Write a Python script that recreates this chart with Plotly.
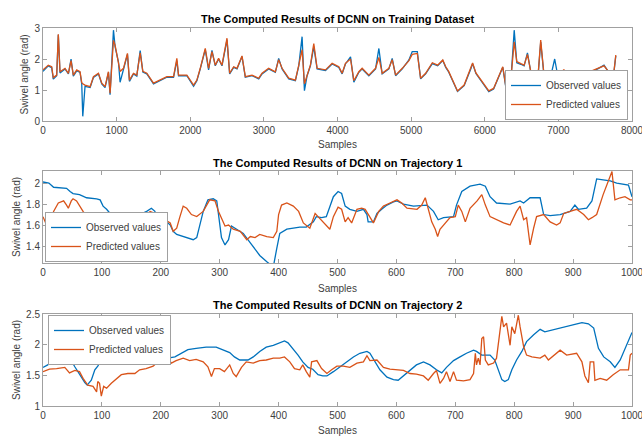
import plotly.graph_objects as go

# ---------------- Training dataset (top) ----------------
train_x = [0, 72, 118, 140, 186, 208, 231, 299, 345, 381, 412, 458, 503, 526, 540, 571, 640, 685, 753, 798,
           843, 889, 911, 957, 979, 1025, 1047, 1093, 1147, 1174, 1229, 1274, 1320, 1356, 1410, 1501, 1592,
           1682, 1773, 1818, 1841, 1954, 2045, 2090, 2136, 2204, 2249, 2295, 2340, 2385, 2431, 2499, 2535,
           2590, 2635, 2703, 2748, 2839, 2930, 2975, 3065, 3156, 3201, 3247, 3338, 3428, 3474, 3519, 3551,
           3587, 3632, 3678, 3723, 3837, 3927, 4018, 4063, 4108, 4177, 4222, 4290, 4335, 4426, 4517, 4562,
           4607, 4698, 4743, 4789, 4880, 4970, 5015, 5084, 5129, 5197, 5288, 5360, 5430, 5470, 5510, 5630,
           5720, 5810, 5835, 5880, 5990, 6055, 6120, 6220, 6245, 6290, 6360, 6400, 6435, 6490, 6535, 6580,
           6625, 6670, 6720, 6760, 6800, 6900, 6950, 6990, 7075, 7170, 7265, 7350, 7440, 7535, 7620, 7710,
           7755, 7780]
train_obs = [1.60, 1.78, 1.72, 1.35, 1.46, 2.78, 1.55, 1.68, 1.52, 2.00, 1.45, 1.62, 1.57, 1.20, 0.15, 1.12,
             1.08, 1.40, 1.52, 1.20, 1.08, 1.57, 0.85, 2.93, 2.40, 1.90, 1.25, 1.68, 2.15, 1.28, 1.52, 1.45,
             2.27, 1.58, 1.52, 1.20, 1.30, 1.41, 1.41, 1.95, 1.46, 1.46, 1.12, 1.30, 1.68, 2.30, 1.65, 2.28,
             1.78, 2.00, 1.78, 2.62, 1.52, 1.73, 1.68, 2.08, 1.41, 1.46, 1.36, 1.52, 1.68, 1.57, 2.02, 1.68,
             1.36, 1.30, 1.78, 2.72, 0.98, 1.46, 1.78, 2.40, 1.68, 1.63, 1.84, 1.73, 1.52, 1.84, 2.07, 1.25,
             1.57, 1.68, 1.46, 1.68, 2.34, 1.52, 1.68, 2.02, 1.46, 1.68, 1.97, 2.24, 2.24, 1.36, 1.52, 1.85,
             1.78, 1.95, 1.73, 1.58, 0.95, 1.14, 1.68, 1.85, 1.53, 1.14, 0.95, 1.03, 1.58, 1.73, 1.03, 1.48,
             2.93, 1.88, 1.83, 1.78, 2.20, 1.58, 1.28, 1.33, 2.55, 1.58, 1.48, 2.00, 1.48, 1.63, 1.43, 1.28,
             1.38, 1.58, 1.68, 1.80, 1.48, 1.58, 2.10]
train_pred = [1.65, 1.80, 1.75, 1.40, 1.48, 2.80, 1.59, 1.70, 1.54, 1.95, 1.48, 1.65, 1.59, 1.24, 1.20, 1.16,
              1.11, 1.43, 1.54, 1.22, 1.11, 1.59, 0.90, 2.60, 2.45, 1.91, 1.60, 1.70, 2.18, 1.32, 1.54, 1.48,
              2.20, 1.60, 1.54, 1.22, 1.32, 1.43, 1.43, 2.02, 1.48, 1.48, 1.16, 1.32, 1.70, 2.34, 1.70, 2.24,
              1.80, 2.02, 1.80, 2.67, 1.54, 1.75, 1.70, 2.10, 1.43, 1.48, 1.38, 1.54, 1.70, 1.59, 1.98, 1.70,
              1.38, 1.32, 1.80, 2.30, 1.20, 1.48, 1.80, 2.50, 1.70, 1.65, 1.86, 1.75, 1.54, 1.86, 2.00, 1.30,
              1.59, 1.70, 1.48, 1.70, 2.05, 1.54, 1.70, 1.98, 1.48, 1.70, 1.95, 2.15, 2.18, 1.38, 1.54, 1.88,
              1.80, 1.97, 1.75, 1.60, 0.97, 1.16, 1.70, 1.87, 1.55, 1.16, 0.97, 1.05, 1.60, 1.75, 1.05, 1.50,
              2.55, 1.92, 1.85, 1.80, 2.15, 1.60, 1.30, 1.35, 2.61, 1.60, 1.50, 1.60, 1.50, 1.65, 1.45, 1.30,
              1.40, 1.60, 1.70, 1.78, 1.50, 1.60, 2.13]

# ---------------- Trajectory 1 (middle) ----------------
t1_obs_x = [0, 10, 18, 31, 40, 46, 51, 62, 74, 91, 97, 102, 108, 114, 122, 131, 136, 148, 159, 165, 176, 184,
            190, 193, 210, 216, 221, 227, 238, 255, 261, 266, 272, 280, 289, 295, 298, 303, 309, 315, 320, 329,
            340, 352, 360, 368, 380, 391, 397, 402, 414, 425, 436, 447, 459, 464, 473, 481, 490, 493, 501, 507,
            513, 521, 533, 544, 550, 552, 561, 567, 575, 584, 595, 601, 612, 629, 652, 663, 671, 680, 697, 702,
            711, 725, 742, 751, 759, 770, 793, 810, 816, 827, 844, 850, 861, 878, 895, 903, 909, 923, 932, 940,
            951, 963, 974, 986, 994, 1000]
t1_obs = [2.01, 2.00, 1.96, 1.95, 1.95, 1.92, 1.90, 1.89, 1.86, 1.85, 1.84, 1.78, 1.75, 1.71, 1.67, 1.59, 1.56,
          1.56, 1.57, 1.70, 1.73, 1.76, 1.73, 1.65, 1.63, 1.60, 1.54, 1.51, 1.49, 1.46, 1.48, 1.60, 1.73, 1.84,
          1.85, 1.83, 1.70, 1.48, 1.41, 1.46, 1.59, 1.56, 1.52, 1.43, 1.37, 1.31, 1.25, 1.20, 1.38, 1.52, 1.56,
          1.57, 1.58, 1.58, 1.63, 1.68, 1.67, 1.68, 1.81, 1.87, 1.92, 1.90, 1.78, 1.75, 1.73, 1.75, 1.70, 1.63,
          1.63, 1.71, 1.75, 1.79, 1.82, 1.83, 1.80, 1.78, 1.79, 1.73, 1.65, 1.67, 1.68, 1.79, 1.92, 1.97, 1.99,
          1.97, 1.87, 1.81, 1.80, 1.83, 1.81, 1.86, 1.86, 1.70, 1.69, 1.70, 1.73, 1.79, 1.75, 1.76, 1.83, 2.04,
          2.03, 2.02, 2.00, 1.99, 1.98, 1.87]
t1_pred_x = [0, 6, 12, 18, 26, 35, 40, 43, 48, 51, 57, 62, 68, 74, 80, 91, 100, 108, 117, 125, 134, 142, 159,
             170, 182, 190, 193, 207, 216, 221, 227, 232, 238, 244, 252, 261, 266, 272, 283, 292, 298, 303, 309,
             315, 323, 335, 346, 352, 360, 368, 380, 391, 397, 400, 405, 414, 425, 434, 442, 453, 462, 467, 476,
             487, 493, 501, 507, 513, 518, 524, 533, 541, 547, 555, 561, 570, 578, 589, 601, 609, 618, 635, 643,
             649, 654, 660, 666, 670, 674, 683, 691, 700, 705, 711, 717, 725, 737, 745, 751, 759, 770, 782, 793,
             804, 810, 816, 821, 827, 833, 838, 850, 861, 872, 878, 884, 895, 906, 918, 926, 932, 940, 951, 960,
             966, 971, 980, 988, 997, 1000]
t1_pred = [1.68, 1.60, 1.62, 1.73, 1.81, 1.83, 1.79, 1.76, 1.83, 1.85, 1.83, 1.78, 1.73, 1.68, 1.67, 1.67, 1.67,
           1.63, 1.62, 1.65, 1.60, 1.57, 1.57, 1.67, 1.73, 1.71, 1.63, 1.65, 1.62, 1.54, 1.57, 1.67, 1.78, 1.76,
           1.70, 1.68, 1.70, 1.73, 1.84, 1.83, 1.73, 1.67, 1.59, 1.60, 1.56, 1.54, 1.46, 1.49, 1.48, 1.51, 1.49,
           1.48, 1.54, 1.70, 1.79, 1.81, 1.78, 1.73, 1.62, 1.57, 1.71, 1.68, 1.63, 1.56, 1.68, 1.77, 1.75, 1.63,
           1.67, 1.62, 1.75, 1.76, 1.75, 1.68, 1.62, 1.73, 1.78, 1.81, 1.84, 1.81, 1.76, 1.75, 1.79, 1.86, 1.76,
           1.63, 1.56, 1.49, 1.56, 1.62, 1.67, 1.68, 1.79, 1.73, 1.63, 1.76, 1.83, 1.89, 1.79, 1.68, 1.65, 1.62,
           1.60, 1.73, 1.78, 1.65, 1.67, 1.41, 1.57, 1.68, 1.70, 1.63, 1.60, 1.62, 1.71, 1.73, 1.75, 1.70, 1.65,
           1.67, 1.70, 1.89, 2.02, 2.11, 1.84, 1.86, 1.87, 1.84, 1.84]

# ---------------- Trajectory 2 (bottom) ----------------
t2_obs_x = [0, 8, 17, 25, 31, 37, 42, 48, 54, 59, 65, 71, 75, 82, 88, 93, 102, 110, 116, 122, 130, 139, 150,
            158, 167, 178, 195, 212, 224, 235, 246, 260, 277, 294, 306, 317, 325, 334, 348, 357, 368, 379, 391,
            402, 410, 416, 424, 433, 441, 450, 458, 467, 475, 482, 493, 504, 516, 527, 538, 550, 555, 564, 572,
            584, 595, 603, 612, 623, 634, 646, 657, 668, 677, 685, 697, 708, 719, 731, 736, 745, 759, 767, 773,
            779, 784, 790, 796, 804, 813, 821, 833, 844, 852, 864, 883, 900, 915, 926, 935, 943, 952, 963, 971,
            980, 988, 997, 1000]
t2_obs = [1.63, 1.67, 1.75, 1.80, 1.81, 1.78, 1.72, 1.74, 1.64, 1.56, 1.48, 1.38, 1.34, 1.42, 1.59, 1.65, 1.80,
          1.89, 1.90, 1.86, 1.83, 1.89, 1.89, 1.83, 1.78, 1.78, 1.78, 1.78, 1.80, 1.86, 1.92, 1.94, 1.96, 1.96,
          1.91, 1.87, 1.80, 1.75, 1.75, 1.80, 1.89, 1.96, 1.99, 2.03, 2.06, 2.03, 1.94, 1.83, 1.72, 1.63, 1.60,
          1.51, 1.49, 1.49, 1.56, 1.64, 1.72, 1.80, 1.86, 1.89, 1.86, 1.72, 1.59, 1.47, 1.43, 1.42, 1.49, 1.59,
          1.67, 1.72, 1.67, 1.59, 1.54, 1.63, 1.74, 1.80, 1.86, 1.91, 1.89, 1.83, 1.83, 1.75, 1.59, 1.43, 1.40,
          1.43, 1.59, 1.75, 1.89, 2.05, 2.16, 2.25, 2.21, 2.24, 2.28, 2.32, 2.36, 2.34, 2.27, 1.94, 1.80, 1.72,
          1.63, 1.75, 1.94, 2.16, 2.20]
t2_pred_x = [0, 11, 23, 37, 45, 54, 62, 68, 76, 85, 91, 93, 96, 99, 103, 108, 116, 125, 133, 144, 156, 164, 175,
             187, 195, 204, 212, 218, 226, 238, 249, 260, 272, 280, 286, 291, 300, 308, 317, 323, 328, 337, 345,
             357, 368, 379, 391, 402, 410, 419, 427, 436, 441, 447, 453, 456, 465, 473, 482, 490, 499, 510, 521,
             533, 544, 550, 555, 567, 578, 589, 601, 612, 623, 634, 646, 654, 663, 668, 674, 680, 685, 691, 697,
             702, 714, 725, 731, 734, 736, 739, 742, 745, 748, 751, 756, 765, 770, 776, 779, 782, 787, 793, 796,
             801, 807, 810, 816, 821, 830, 844, 852, 858, 869, 878, 889, 906, 915, 920, 926, 929, 935, 937, 946,
             957, 968, 980, 994, 997, 1000]
t2_pred = [1.56, 1.60, 1.61, 1.63, 1.54, 1.58, 1.56, 1.45, 1.34, 1.32, 1.23, 1.40, 1.37, 1.16, 1.32, 1.29, 1.37,
           1.45, 1.51, 1.53, 1.53, 1.59, 1.61, 1.65, 1.72, 1.78, 1.78, 1.70, 1.74, 1.78, 1.74, 1.76, 1.72, 1.64,
           1.48, 1.61, 1.61, 1.56, 1.67, 1.53, 1.48, 1.63, 1.72, 1.70, 1.74, 1.75, 1.78, 1.78, 1.80, 1.72, 1.61,
           1.59, 1.67, 1.56, 1.47, 1.72, 1.74, 1.61, 1.53, 1.59, 1.65, 1.65, 1.63, 1.70, 1.72, 1.82, 1.74, 1.75,
           1.63, 1.60, 1.59, 1.58, 1.53, 1.52, 1.49, 1.42, 1.53, 1.58, 1.37, 1.45, 1.56, 1.40, 1.56, 1.42, 1.41,
           1.43, 1.53, 1.86, 1.67, 1.78, 1.67, 2.10, 2.13, 1.75, 1.67, 1.70, 1.78, 2.18, 2.46, 2.29, 2.35, 1.99,
           2.29, 2.18, 2.48, 2.29, 1.97, 1.83, 1.80, 1.78, 1.83, 1.75, 1.83, 1.91, 1.83, 1.86, 1.72, 1.49, 1.38,
           1.72, 1.72, 1.42, 1.45, 1.42, 1.51, 1.59, 1.59, 1.83, 1.86]

titles = ["The Computed Results of DCNN on Training Dataset",
          "The Computed Results of DCNN on Trajectory 1",
          "The Computed Results of DCNN on Trajectory 2"]
series_names = ["Observed values", "Predicted values"]
colors = ["#0072BD", "#D95319"]

W, H = 642, 436
FONT = "Liberation Sans, Arial, sans-serif"
TXT = "#404040"

def px(x):
    return x / W

def py(y):
    return 1 - y / H

# panel pixel boxes: (top, bottom)
panels = [(28, 121), (171, 263), (314, 406)]
xl, xr = 43, 632

fig = go.Figure()
data = [
    (train_x, train_obs, train_x, train_pred),
    (t1_obs_x, t1_obs, t1_pred_x, t1_pred),
    (t2_obs_x, t2_obs, t2_pred_x, t2_pred),
]
legends = ["legend", "legend2", "legend3"]
widths = [1.3, 1.3, 1.3]
for i, (ox, oy, pxs, pys) in enumerate(data):
    ax = "" if i == 0 else str(i + 1)
    fig.add_trace(go.Scatter(x=ox, y=oy, mode="lines", name=series_names[0],
                             line=dict(color=colors[0], width=widths[i]),
                             xaxis="x" + ax, yaxis="y" + ax, legend=legends[i]))
    fig.add_trace(go.Scatter(x=pxs, y=pys, mode="lines", name=series_names[1],
                             line=dict(color=colors[1], width=widths[i]),
                             xaxis="x" + ax, yaxis="y" + ax, legend=legends[i]))

axis_common = dict(showgrid=False, zeroline=False, showline=True, mirror="ticks",
                   linecolor="#a0a0a0", linewidth=1, ticks="inside", ticklen=4,
                   tickcolor="#a0a0a0", automargin=False, ticklabeloverflow="allow",
                   tickfont=dict(family=FONT, size=10, color=TXT))

xranges = [[0, 8000], [0, 1000], [0, 1000]]
xdticks = [1000, 100, 100]
yranges = [[0, 3], [1.238, 2.115], [1, 2.5]]
ytickvals = [[0, 1, 2, 3], [1.4, 1.6, 1.8, 2.0], [1, 1.5, 2, 2.5]]
yticktext = [["0", "1", "2", "3"], ["1.4", "1.6", "1.8", "2"], ["1", "1.5", "2", "2.5"]]

layout = dict(width=W, height=H, margin=dict(l=0, r=0, t=0, b=0),
              paper_bgcolor="white", plot_bgcolor="white", showlegend=True)
for i, (top, bot) in enumerate(panels):
    ax = "" if i == 0 else str(i + 1)
    layout["xaxis" + ax] = dict(axis_common, domain=[px(xl), px(xr)], range=xranges[i],
                                dtick=xdticks[i], tick0=0, anchor="y" + ax)
    layout["yaxis" + ax] = dict(axis_common, domain=[py(bot), py(top)], range=yranges[i],
                                tickvals=ytickvals[i], ticktext=yticktext[i], anchor="x" + ax)

leg_common = dict(bgcolor="white", bordercolor="#a0a0a0", borderwidth=1,
                  font=dict(family=FONT, size=10, color=TXT), tracegroupgap=0,
                  itemwidth=30)
layout["legend"] = dict(leg_common, x=px(628), xanchor="right", y=py(120), yanchor="bottom")
layout["legend2"] = dict(leg_common, x=px(45), xanchor="left", y=py(262), yanchor="bottom")
layout["legend3"] = dict(leg_common, x=px(48), xanchor="left", y=py(315), yanchor="top")

fig.update_layout(**layout)

title_y = [19, 163, 305]
xlabel_y = [144, 288, 430]
ylabel_x = [24, 16, 16]
for i, (top, bot) in enumerate(panels):
    fig.add_annotation(text="<b>" + titles[i] + "</b>", x=px((xl + xr) / 2), y=py(title_y[i]),
                       xref="paper", yref="paper", showarrow=False,
                       font=dict(family=FONT, size=11, color="black"), xanchor="center", yanchor="middle")
    fig.add_annotation(text="Samples", x=px((xl + xr) / 2), y=py(xlabel_y[i]),
                       xref="paper", yref="paper", showarrow=False,
                       font=dict(family=FONT, size=10, color=TXT), xanchor="center", yanchor="middle")
    fig.add_annotation(text="Swivel angle (rad)", x=px(ylabel_x[i]), y=py((top + bot) / 2),
                       xref="paper", yref="paper", showarrow=False, textangle=-90,
                       font=dict(family=FONT, size=10, color=TXT), xanchor="center", yanchor="middle")

fig.write_html("out.html", config={"displayModeBar": False},
               post_script="document.body.style.margin='0';")
